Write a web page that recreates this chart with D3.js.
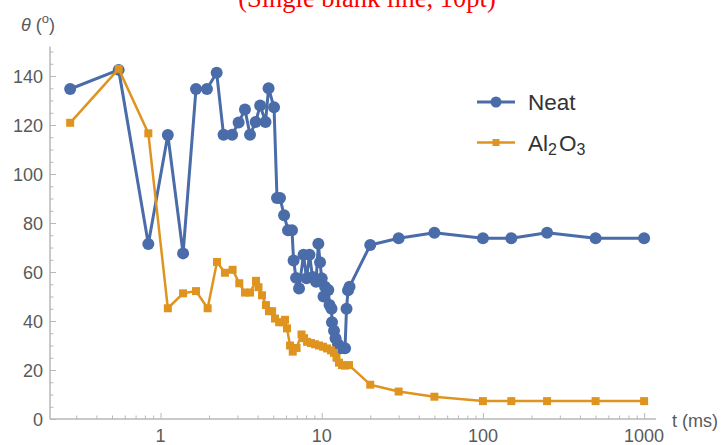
<!DOCTYPE html>
<html>
<head>
<meta charset="utf-8">
<script src="https://cdn.jsdelivr.net/npm/d3@7"></script>
<style>
body { margin: 0; background: #fff; }
svg { display: block; }
.tick-label { font-family: "Liberation Sans", Arial, sans-serif; font-size: 18px; fill: #5a5a5a; }
.legend-label { font-family: "Liberation Sans", Arial, sans-serif; font-size: 22.5px; fill: #333; }
</style>
</head>
<body>
<svg width="721" height="445"></svg>
<script>
var svg = d3.select("svg");

// data
var neatT = [0.275, 0.55, 0.84, 1.11, 1.38, 1.66, 1.94, 2.23, 2.46, 2.78, 3.05, 3.34, 3.59, 3.89, 4.15, 4.48, 4.68, 5.06,
  5.28, 5.51, 5.84, 6.18, 6.54, 6.69, 6.93, 7.23, 7.71, 8.05, 8.40, 8.77, 9.22, 9.53, 9.76, 10.0, 10.26, 10.48, 10.99,
  11.18, 11.5, 11.58, 11.92, 12.18, 12.62, 13.08, 13.56, 13.95, 14.25, 14.56, 14.88, 20, 30, 50, 100, 150, 250, 500, 1000];
var neatTheta = [134.7, 142.5, 71.4, 115.9, 67.6, 134.7, 134.7, 141.3, 116, 116, 121, 126.3, 116, 121.2, 128, 121.2, 135, 127.2,
  90.2, 90.2, 83.2, 77, 77, 64.7, 57.6, 53.3, 67, 57.4, 67, 58, 56, 71.5, 64, 57.4, 50, 54, 52.7,
  46.5, 45, 39.5, 36, 33, 30.5, 28.9, 29, 28.9, 45, 52.5, 54, 71, 73.8, 76, 73.8, 73.8, 76, 73.8, 73.8];

var alT = [0.275, 0.55, 0.84, 1.11, 1.38, 1.66, 1.96, 2.24, 2.51, 2.80, 3.08, 3.34, 3.59, 3.91, 4.05, 4.26, 4.51, 4.71, 4.92,
  5.13, 5.44, 5.75, 5.92, 6.09, 6.36, 6.61, 6.98, 7.49, 7.77, 8.11, 8.58, 9.09, 9.62, 10.19, 10.79, 11.42, 11.92, 12.35,
  12.8, 13.36, 13.95, 14.77, 20, 30, 50, 100, 150, 250, 500, 1000];
var alTheta = [120.9, 142.9, 116.6, 45.2, 51.3, 52.2, 45.2, 64.1, 59.7, 60.9, 55.4, 51.6, 51.6, 56.4, 53.8, 50.5, 46.5, 44, 44,
  41, 39.5, 39.5, 40.5, 37, 30, 27.5, 29, 34.5, 33, 31.5, 31, 30.5, 30, 29.5, 28.8, 28, 27, 25,
  23, 22, 21.8, 22, 14, 11.2, 9.1, 7.3, 7.3, 7.3, 7.3, 7.3];

var xMajor = [1, 10, 100, 1000];
var yMajor = [0, 20, 40, 60, 80, 100, 120, 140];

var blue = "#4a6ca9";
var orange = "#df9420";
var axisColor = "#b8b8b8";

var x = d3.scaleLog().domain([0.2062, 1185]).range([50, 656]);
var y = d3.scaleLinear().domain([0, 152]).range([419, 46.6]);

// title left over from the page template
svg.append("text")
.attr("x", 367)
.attr("y", 7)
.attr("text-anchor", "middle")
.attr("font-family", "Liberation Serif, Times New Roman, serif")
.attr("font-size", 26.5)
.attr("fill", "#ff0000")
.text("(Single blank line, 10pt)");

// minor ticks
var xMinor = [];
[0.1, 1, 10, 100].forEach(function(p) {
  for (var k = 2; k <= 9; k++) {
    var v = k * p;
    if (v >= 0.2062 && v <= 1185) xMinor.push(v);
  }
});
var yMinor = d3.range(0, 151, 5).filter(function(v) { return v % 20 !== 0; });

// x axis
var xAxis = svg.append("g")
.attr("transform", "translate(0,419)")
.call(d3.axisTop(x).tickValues(xMajor).tickSize(6).tickFormat(""));
xAxis.append("g")
.call(d3.axisTop(x).tickValues(xMinor).tickSize(3.5).tickFormat(""));
xAxis.selectAll("path").attr("d", "M50,0H656");
xAxis.selectAll("line, path").attr("stroke", axisColor);

svg.append("g").selectAll("text")
.data(xMajor)
.join("text")
.attr("class", "tick-label")
.attr("x", function(d) { return x(d); })
.attr("y", 442)
.attr("text-anchor", "middle")
.text(function(d) { return d; });

// y axis
var yAxis = svg.append("g")
.attr("transform", "translate(50,0)")
.call(d3.axisRight(y).tickValues(yMajor).tickSize(6).tickFormat(""));
yAxis.append("g")
.call(d3.axisRight(y).tickValues(yMinor).tickSize(3.5).tickFormat(""));
yAxis.selectAll("path").attr("d", "M0,419V" + y(152));
yAxis.selectAll("line, path").attr("stroke", axisColor);

svg.append("g").selectAll("text")
.data(yMajor)
.join("text")
.attr("class", "tick-label")
.attr("x", 43)
.attr("y", function(d) { return y(d) + 6.5; })
.attr("text-anchor", "end")
.text(function(d) { return d; });

// axis labels
var yLabel = svg.append("text")
.attr("class", "tick-label")
.attr("x", 21)
.attr("y", 31);
yLabel.append("tspan").attr("font-style", "italic").text("θ");
yLabel.append("tspan").text(" (");
yLabel.append("tspan").attr("font-size", 13).attr("dy", -8).text("o");
yLabel.append("tspan").attr("dy", 8).text(")");

svg.append("text")
.attr("class", "tick-label")
.attr("x", 672)
.attr("y", 427)
.attr("font-size", 19)
.text("t (ms)");

// series
var line = d3.line()
.x(function(d) { return x(d[0]); })
.y(function(d) { return y(d[1]); });

var neat = d3.zip(neatT, neatTheta);
var al = d3.zip(alT, alTheta);

svg.append("path")
.datum(neat)
.attr("fill", "none")
.attr("stroke", blue)
.attr("stroke-width", 3)
.attr("stroke-linejoin", "round")
.attr("d", line);

svg.append("g").selectAll("circle")
.data(neat)
.join("circle")
.attr("cx", function(d) { return x(d[0]); })
.attr("cy", function(d) { return y(d[1]); })
.attr("r", 6)
.attr("fill", blue);

svg.append("path")
.datum(al)
.attr("fill", "none")
.attr("stroke", orange)
.attr("stroke-width", 2.5)
.attr("stroke-linejoin", "round")
.attr("d", line);

svg.append("g").selectAll("rect")
.data(al)
.join("rect")
.attr("x", function(d) { return x(d[0]) - 4; })
.attr("y", function(d) { return y(d[1]) - 4; })
.attr("width", 8)
.attr("height", 8)
.attr("fill", orange);

// legend
var legend = svg.append("g");

legend.append("line")
.attr("x1", 477).attr("x2", 515)
.attr("y1", 102).attr("y2", 102)
.attr("stroke", blue)
.attr("stroke-width", 3);
legend.append("circle")
.attr("cx", 496).attr("cy", 102).attr("r", 5.5)
.attr("fill", blue);
legend.append("text")
.attr("class", "legend-label")
.attr("x", 528)
.attr("y", 110)
.text("Neat");

legend.append("line")
.attr("x1", 477).attr("x2", 515)
.attr("y1", 142.5).attr("y2", 142.5)
.attr("stroke", orange)
.attr("stroke-width", 2.5);
legend.append("rect")
.attr("x", 492.5).attr("y", 139)
.attr("width", 7).attr("height", 7)
.attr("fill", orange);
var alLabel = legend.append("text")
.attr("class", "legend-label")
.attr("x", 528)
.attr("y", 150.5);
alLabel.append("tspan").text("Al");
alLabel.append("tspan").attr("font-size", 16).attr("dy", 4).text("2");
alLabel.append("tspan").attr("dy", -4).attr("dx", 2).text("O");
alLabel.append("tspan").attr("font-size", 16).attr("dy", 4).text("3");
</script>
</body>
</html>
